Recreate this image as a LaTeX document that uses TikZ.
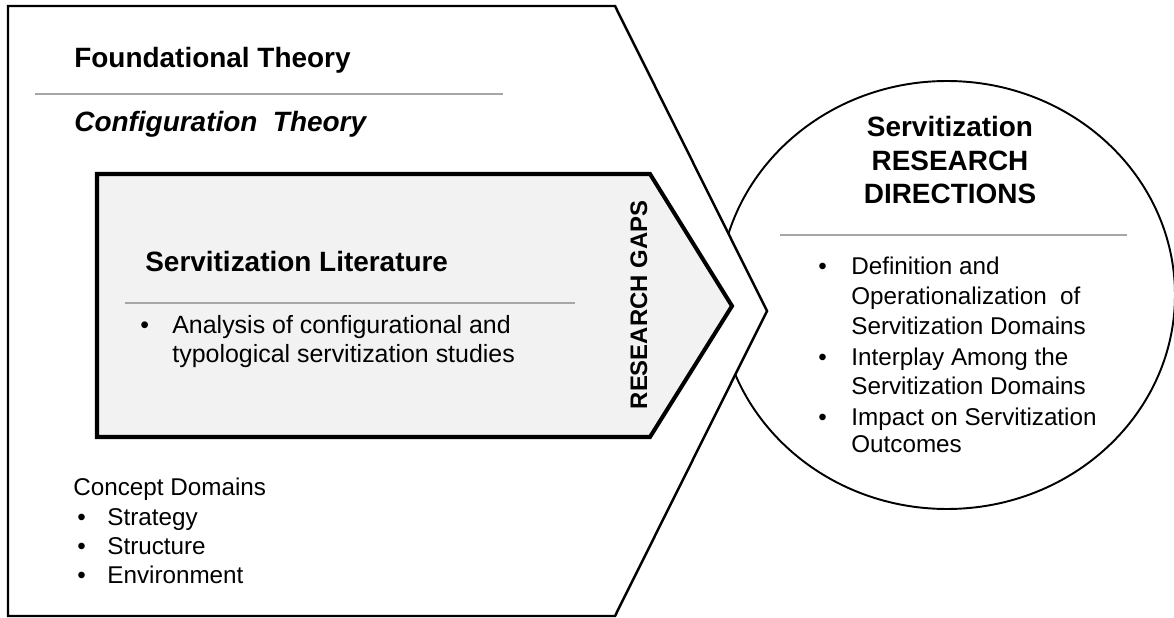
\documentclass[tikz,border=0pt]{standalone}
\usepackage{fontspec}
\setmainfont{Liberation Sans}
\usetikzlibrary{backgrounds}

\tikzset{
  title/.style={font=\bfseries\fontsize{15.9}{19}\selectfont, inner sep=0pt},
  body/.style={font=\fontsize{13.8}{16.5}\selectfont, inner sep=0pt, anchor=base west},
  bodybig/.style={body, font=\fontsize{14.2}{17}\selectfont},
  rulegray/.style={draw=black!35, line width=0.75pt}
}

\begin{document}
\begin{tikzpicture}[x=0.02cm,y=-0.02cm]
  \useasboundingbox (0,0) rectangle (1174,618);

  % corners of the big chevron
  \coordinate (oNW) at (8,6);
  \coordinate (oNE) at (615,6);
  \coordinate (oTip) at (767,311);
  \coordinate (oSE) at (615,616);
  \coordinate (oSW) at (8,616);
  % corners of the grey arrow
  \coordinate (iNW) at (97,174);
  \coordinate (iNE) at (650,174);
  \coordinate (iTip) at (732,306);
  \coordinate (iSE) at (650,437);
  \coordinate (iSW) at (97,437);
  \coordinate (dirC) at (947,295);

  % research directions, sits behind the chevron
  \begin{pgfonlayer}{background}
    \draw[line width=1.1pt, fill=white] (dirC) ellipse [x radius=228, y radius=214];
  \end{pgfonlayer}

  \draw[line width=1.4pt, fill=white, line join=miter]
    (oNW) -- (oNE) -- (oTip) -- (oSE) -- (oSW) -- cycle;
  \draw[line width=2.3pt, fill=black!5, line join=miter]
    (iNW) -- (iNE) -- (iTip) -- (iSE) -- (iSW) -- cycle;

  % theory
  \node[title, anchor=base west] (found) at (74,68) {Foundational Theory};
  \coordinate (foundL) at (35,94);
  \coordinate (foundR) at (503,94);
  \draw[rulegray] (foundL) -- (foundR);
  \node[title, anchor=base west] (config) at (74,132) {\itshape Configuration\ \ Theory};

  % literature
  \node[title, anchor=base west] (lit) at (145,272) {Servitization Literature};
  \coordinate (litL) at (125,303);
  \coordinate (litR) at (575,303);
  \draw[rulegray] (litL) -- (litR);
  \node[bodybig] (litB) at (140,334) {\textbullet};
  \node[bodybig] (lit1) at (172,334) {Analysis of configurational and};
  \node[bodybig] (lit2) at (172,363) {typological servitization studies};

  \node[font=\bfseries\fontsize{13.6}{16}\selectfont, inner sep=0pt, rotate=90, anchor=base]
    (gaps) at (647,305) {RESEARCH GAPS};

  % concept domains
  \node[body] (dom) at (73,495) {Concept Domains};
  \node[body] (domB1) at (77,525) {\textbullet};
  \node[body] (dom1) at (107,525) {Strategy};
  \node[body] (domB2) at (77,554) {\textbullet};
  \node[body] (dom2) at (107,554) {Structure};
  \node[body] (domB3) at (77,583) {\textbullet};
  \node[body] (dom3) at (107,583) {Environment};

  % directions
  \node[title, anchor=base] (dir1) at (950,137) {Servitization};
  \node[title, anchor=base] (dir2) at (950,171) {RESEARCH};
  \node[title, anchor=base] (dir3) at (950,204) {DIRECTIONS};
  \coordinate (dirL) at (780,235);
  \coordinate (dirR) at (1127,235);
  \draw[rulegray] (dirL) -- (dirR);
  \node[body] (dirB1) at (818,275) {\textbullet};
  \node[body] (dirA1) at (851,275) {Definition and};
  \node[body] (dirA2) at (851,305) {Operationalization\ \ of};
  \node[body] (dirA3) at (851,335) {Servitization Domains};
  \node[body] (dirB2) at (818,366) {\textbullet};
  \node[body] (dirA4) at (851,366) {Interplay Among\ the};
  \node[body] (dirA5) at (851,395) {Servitization Domains};
  \node[body] (dirB3) at (818,425) {\textbullet};
  \node[body] (dirA6) at (851,425) {Impact on Servitization};
  \node[body] (dirA7) at (851,453) {Outcomes};
\end{tikzpicture}
\end{document}
